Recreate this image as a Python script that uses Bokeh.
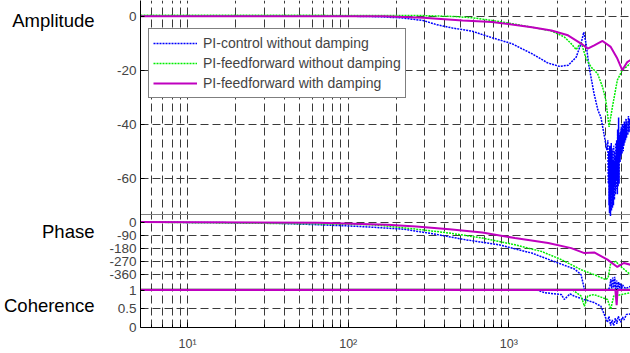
import numpy as np
from bokeh.plotting import figure
from bokeh.models import (Range1d, FixedTicker, Legend, LegendItem, LinearAxis, Grid)
from bokeh.embed import file_html
from bokeh.resources import INLINE

FONT = "Liberation Sans"
NaN = float("nan")

# ---------------- data ----------------
series_names = ["PI-control without damping",
                "PI-feedforward without damping",
                "PI-feedforward with damping"]

# Amplitude [dB]
amp_blue_f = [5.09, 53.5, 125, 166, 220, 292, 352, 445, 592, 786, 1045, 1389, 1740,
              2062, 2342, 2623, 2815, 2926, 3022, 3153, 3384, 3582, 3738, 3899, 4070,
              4130, 4160, 4186, 4200, 4215, 4230, 4245, 4260, 4275, 4290, 4306, 4320,
              4337, 4352, 4367, 4382, 4398, 4414, 4430, 4445, 4461, 4477, 4493, 4509,
              4525, 4541, 4557, 4573, 4590, 4606, 4621, 4637, 4654, 4670, 4687, 4703,
              4720, 4736, 4753, 4770, 4787, 4804, 4821, 4838, 4855, 4872, 4889, 4906,
              4924, 4941, 4959, 4976, 4994, 5011, 5029, 5047, 5065, 5083, 5101, 5125,
              5150, 5175, 5200, 5230, 5260, 5290, 5325, 5360, 5400, 5450, 5500, 5550,
              5600, 5650, 5716]
amp_blue_db = [0.05, 0.0, -0.1, -0.3, -0.7, -1.6, -3.1, -4.4, -5.6, -8.0, -10.2, -13.9, -17.3,
               -18.6, -18.2, -15.2, -10.1, -5.9, -10.1, -18.6, -28.5, -34.8, -37.4, -43.3, -49.6,
               -46.0, -62.0, -50.0, -70.0, -54.0, -73.0, -48.0, -68.0, -56.0, -74.0, -52.0, -66.0,
               -47.0, -72.0, -50.0, -64.0, -55.0, -71.0, -49.0, -67.0, -53.0, -70.0, -48.0, -63.0,
               -55.0, -68.0, -50.0, -62.0, -54.0, -66.0, -47.0, -61.0, -52.0, -64.0, -46.0, -60.0,
               -50.0, -66.0, -42.0, -58.0, -63.0, -48.0, -37.5, -55.0, -62.0, -46.0, -52.0, -44.0,
               -54.0, -43.0, -51.0, -42.0, -52.0, -41.0, -50.0, -43.0, -51.0, -40.0, -49.0, -42.0,
               -50.0, -40.0, -48.0, -39.0, -47.0, -40.0, -46.0, -38.0, -45.0, -39.0, -44.0, -37.0,
               -43.0, -38.0, -40.0]

amp_green_f = [5.09, 53.5, 292, 445, 592, 786, 1045, 1389, 1841, 2213, 2444, 2623, 2815,
               3022, 3244, 3566, 3828, 4012, 4204, 4411, 4733, 5082, 5716]
amp_green_db = [0.3, 0.3, 0.2, -0.1, -0.6, -1.6, -2.8, -4.1, -5.5, -7.7, -10.2, -12.4, -9.6,
                -15.7, -18.8, -21.3, -26.2, -31.1, -41.0, -33.6, -23.7, -20.0, -17.5]

amp_mag_f = [5.09, 166, 292, 515, 786, 1045, 1389, 1841, 2333, 2815, 3097, 3399, 3828,
             4306, 4733, 5082, 5456, 5716]
amp_mag_db = [0.0, 0.0, -0.6, -1.6, -2.2, -3.1, -4.1, -5.3, -7.1, -10.2, -12.0, -10.8, -9.2,
              -11.4, -15.7, -20.0, -17.0, -16.3]

# Phase [deg]  (NaN = below the visible phase window)
ph_blue_f = [5.09, 30.6, 65, 95, 138, 220, 337, 539, 866, 1388, 2025, 2561, 2815, 2951,
             3200, 4186, 4250, 4306, 4367, 4430, 4493, 4557, 4621, 4687, 4753, 4821,
             4889, 4959, 5029, 5101, 5325, 5716]
ph_blue_deg = [0, -5, -18, -25, -34, -48, -80, -121, -155, -212, -280, -321, -360, -460,
               NaN, -460, -440, -390, -455, -380, -450, -375, -458, -400, -460, -410,
               -455, -420, -460, -430, -455, -440]

ph_green_f = [5.09, 65, 138, 166, 265, 426, 683, 1090, 1598, 2122, 2815, 3399, 4012,
              4150, 4306, 4621, 4959, 5716]
ph_green_deg = [0, -12, -18, -25, -48, -75, -109, -155, -201, -257, -326, -360, -394,
                -380, -280, -269, -303, -360]

ph_mag_f = [5.09, 65, 175, 265, 426, 683, 1090, 1757, 2444, 2951, 3399, 4111, 4733, 5198, 5716]
ph_mag_deg = [0, -5, -18, -30, -48, -71, -109, -143, -178, -212, -208, -257, -307, -280, -292]

# Coherence [-]
coh_blue_f = [5.09, 1500, 1674, 2122, 2213, 2400, 2550, 2938, 3384, 3738, 4111, 4200,
              4300, 4400, 4493, 4600, 4700, 4800, 4959, 5100, 5200, 5400, 5716]
coh_blue = [1.0, 1.0, 0.93, 0.88, 0.75, 0.9, 0.84, 0.75, 0.67, 0.57, 0.14, 0.3,
            0.05, 0.2, 0.05, 0.25, 0.1, 0.3, 0.14, 0.28, 0.2, 0.35, 0.36]

coh_green_f = [5.09, 2500, 2815, 2951, 3097, 3384, 4111, 4306, 4493, 5716]
coh_green = [1.0, 1.0, 0.84, 0.57, 0.84, 0.88, 0.75, 0.49, 0.84, 0.93]

coh_mag_f = [5.09, 4600, 4687, 4750, 5716]
coh_mag = [1.0, 1.0, 0.6, 1.0, 1.0]

# ticks / labels
x_major = [10, 100, 1000]
x_minor = [m * 10 ** e for e in range(0, 4) for m in range(2, 10)]
x_labels = {10: "10\u00b9", 100: "10\u00b2", 1000: "10\u00b3"}
amp_ticks = [-60, -40, -20, 0]
phase_ticks = [-360, -270, -180, -90, 0]
coh_ticks = [0, 0.5, 1]
titles = [("amp", -1.8, "Amplitude"), ("phase", -66.0, "Phase"), ("coh", 0.58, "Coherence")]

# ---------------- layout of the three stacked panels (styling) ----------------
# each panel: value window (lo, hi) and its share of the frame height (from bottom)
PANELS = {
    "amp":   dict(lo=-73.4, hi=5.79, f_lo=0.34604, f_hi=1.0),
    "phase": dict(lo=-462.4, hi=53.3, f_lo=0.11585, f_hi=0.34604),
    "coh":   dict(lo=0.0, hi=1.0133, f_lo=0.0, f_hi=0.11585),
}


def frac(name, v):
    P = PANELS[name]
    return P["f_lo"] + (v - P["lo"]) / (P["hi"] - P["lo"]) * (P["f_hi"] - P["f_lo"])


def full_range(name):
    P = PANELS[name]
    scale = (P["hi"] - P["lo"]) / (P["f_hi"] - P["f_lo"])
    return Range1d(P["lo"] - P["f_lo"] * scale, P["lo"] + (1 - P["f_lo"]) * scale)


BLUE = "#0000ff"
GREEN = "#00ee00"
MAG = "#bf00bf"
GRID = "#3a3a3a"
DASH = "8 4"

p = figure(x_axis_type="log", x_range=Range1d(5.09, 5716), y_range=Range1d(0, 1),
           width=630, height=353,
           min_border_left=134, min_border_right=0, min_border_top=0, min_border_bottom=25,
           toolbar_location=None, output_backend="svg")
p.extra_y_ranges = {k: full_range(k) for k in PANELS}
p.outline_line_color = None
p.background_fill_color = "white"
p.border_fill_color = "white"

# x axis & vertical grid
xt = FixedTicker(ticks=x_major, minor_ticks=x_minor)
p.xaxis.ticker = xt
p.xgrid.ticker = xt
p.xgrid.grid_line_color = GRID
p.xgrid.grid_line_dash = DASH
p.xgrid.minor_grid_line_color = GRID
p.xgrid.minor_grid_line_dash = DASH
p.xaxis.axis_line_color = "black"
p.xaxis.major_tick_in = 5
p.xaxis.major_tick_out = 0
p.xaxis.minor_tick_in = 3
p.xaxis.minor_tick_out = 0
p.xaxis.major_tick_line_color = "black"
p.xaxis.minor_tick_line_color = "black"
p.xaxis.major_label_overrides = x_labels
p.xaxis.major_label_text_font = FONT
p.xaxis.major_label_text_font_size = "12.5px"
p.xaxis.major_label_standoff = 9

# y axis: tick marks of all three panels on one left axis
ytick_pos, ytick_lab = [], {}
for name, ticks in (("amp", amp_ticks), ("phase", phase_ticks), ("coh", coh_ticks)):
    for t in ticks:
        pos = frac(name, t)
        ytick_pos.append(pos)
        ytick_lab[pos] = "%g" % t
yt = FixedTicker(ticks=ytick_pos)
p.yaxis.ticker = yt
p.yaxis.major_label_overrides = ytick_lab
p.yaxis.major_tick_in = 4
p.yaxis.major_tick_out = 0
p.yaxis.minor_tick_line_color = None
p.yaxis.axis_line_color = "black"
p.yaxis.major_label_text_font = FONT
p.yaxis.major_label_text_font_size = "13.5px"
p.yaxis.major_label_standoff = 4
p.ygrid.ticker = yt
p.ygrid.grid_line_color = GRID
p.ygrid.grid_line_dash = DASH

# panel boundaries
p.add_layout(Grid(dimension=1, ticker=FixedTicker(ticks=[PANELS["amp"]["f_lo"]]),
                  grid_line_color="#808080", grid_line_width=1))
p.add_layout(Grid(dimension=1, ticker=FixedTicker(ticks=[PANELS["coh"]["f_hi"]]),
                  grid_line_color="black", grid_line_width=1.5))

# panel titles as an outer left axis
title_pos, title_lab = [], {}
for name, v, txt in titles:
    pos = frac(name, v)
    title_pos.append(pos)
    title_lab[pos] = txt
tax = LinearAxis(ticker=FixedTicker(ticks=title_pos), major_label_overrides=title_lab,
                 axis_line_color=None, major_tick_line_color=None, minor_tick_line_color=None,
                 major_label_standoff=6, major_label_text_font=FONT,
                 major_label_text_font_size="18.5px", major_label_text_color="black")
p.add_layout(tax, "left")

# ---------------- curves ----------------
r1 = p.line(amp_blue_f, amp_blue_db, y_range_name="amp", line_color=BLUE, line_width=1.5, line_dash="2 1")
r2 = p.line(amp_green_f, amp_green_db, y_range_name="amp", line_color=GREEN, line_width=1.5, line_dash="2 1")
r3 = p.line(amp_mag_f, amp_mag_db, y_range_name="amp", line_color=MAG, line_width=2)

p.line(ph_blue_f, ph_blue_deg, y_range_name="phase", line_color=BLUE, line_width=1.5, line_dash="2 1")
p.line(ph_green_f, ph_green_deg, y_range_name="phase", line_color=GREEN, line_width=1.5, line_dash="2 1")
p.line(ph_mag_f, ph_mag_deg, y_range_name="phase", line_color=MAG, line_width=2)

p.line(coh_blue_f, coh_blue, y_range_name="coh", line_color=BLUE, line_width=1.5, line_dash="2 1")
p.line(coh_green_f, coh_green, y_range_name="coh", line_color=GREEN, line_width=1.5, line_dash="2 1")
p.line(coh_mag_f, coh_mag, y_range_name="coh", line_color=MAG, line_width=2)

legend = Legend(items=[LegendItem(label=series_names[0], renderers=[r1]),
                       LegendItem(label=series_names[1], renderers=[r2]),
                       LegendItem(label=series_names[2], renderers=[r3])],
                location=(8, 229), margin=0, padding=4, spacing=0,
                glyph_width=44, glyph_height=14, label_standoff=6, label_height=20,
                label_text_font=FONT, label_text_font_size="14px",
                border_line_color="black", border_line_width=1,
                background_fill_color="white", background_fill_alpha=1.0)
p.add_layout(legend)

with open("out.html", "w") as f:
    f.write(file_html(p, INLINE))
